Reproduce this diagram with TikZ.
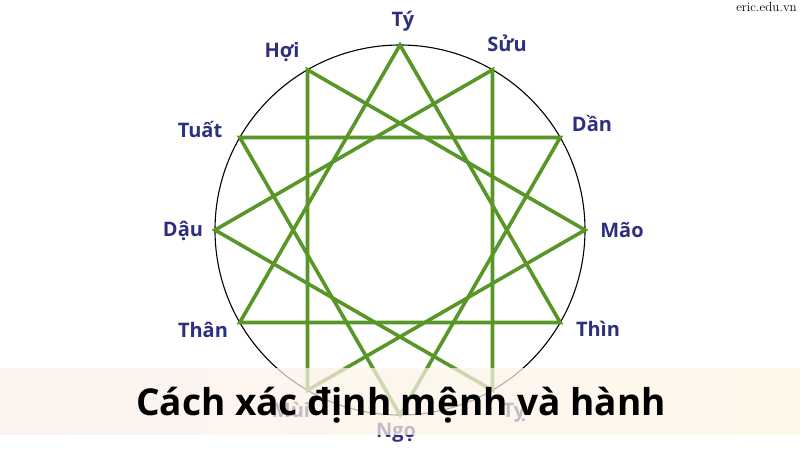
\documentclass[tikz,border=0pt]{standalone}
\usepackage{fontspec}
\newfontfamily\zodiacfont{Open Sans}
\usetikzlibrary{shadings}
\definecolor{starGreen}{RGB}{88,150,40}
\definecolor{nameBlue}{RGB}{45,48,125}
\definecolor{bandLeft}{RGB}{251,239,233}
\definecolor{bandRight}{RGB}{253,245,226}

\begin{document}
\begin{tikzpicture}[x=1pt, y=1pt,
		branch/.style={text=nameBlue, font=\zodiacfont\bfseries\fontsize{20}{22}\selectfont, inner sep=0pt, anchor=base},
		tri/.style={draw=starGreen, line width=3.6pt}]
			\useasboundingbox (-400, -220) rectangle (400, 230);
			\coordinate (O) at (0, 0);
			\draw[line width=1.1pt] (O) circle(185);
			% the twelve points on the circle
			\coordinate (Ty)   at (90:185);
			\coordinate (Suu)  at (60:185);
			\coordinate (Dan)  at (30:185);
			\coordinate (Mao)  at (0:185);
			\coordinate (Thin) at (-30:185);
			\coordinate (Ti)   at (-60:185);
			\coordinate (Ngo)  at (-90:185);
			\coordinate (Mui)  at (-120:185);
			\coordinate (Than) at (-150:185);
			\coordinate (Dau)  at (180:185);
			\coordinate (Tuat) at (150:185);
			\coordinate (Hoi)  at (120:185);
			% four triangles
			\draw[tri] (Than) -- (Ty) -- (Thin) -- cycle;
			\draw[tri] (Dau) -- (Suu) -- (Ti) -- cycle;
			\draw[tri] (Tuat) -- (Dan) -- (Ngo) -- cycle;
			\draw[tri] (Hoi) -- (Mao) -- (Mui) -- cycle;
			% names
			\node[branch] (lTy)   at (3, 203)     {Tý};
			\node[branch] (lSuu)  at (107, 178)   {Sửu};
			\node[branch] (lDan)  at (192, 99)    {Dần};
			\node[branch] (lMao)  at (222, -7)    {Mão};
			\node[branch] (lThin) at (198, -106)  {Thìn};
			\node[branch] (lTi)   at (114, -187)  {Tỵ};
			\node[branch] (lNgo)  at (-4, -207)   {Ngọ};
			\node[branch] (lMui)  at (-109, -187) {Mùi};
			\node[branch] (lThan) at (-197, -107) {Thân};
			\node[branch] (lDau)  at (-217, -6)   {Dậu};
			\node[branch] (lTuat) at (-200, 93)   {Tuất};
			\node[branch] (lHoi)  at (-118, 172)  {Hợi};
			% title band
			\shade[left color=bandLeft, right color=bandRight, opacity=0.72] (-400, -138) rectangle (400, -204);
			\node[font=\zodiacfont\bfseries\fontsize{37}{42}\selectfont, inner sep=0pt, anchor=base] (title) at (1, -185) {Cách xác định mệnh và hành};
			\node[font=\fontsize{13}{15}\selectfont, anchor=east, inner sep=0pt] (site) at (397, 223) {eric.edu.vn};
		\end{tikzpicture}
\end{document}
